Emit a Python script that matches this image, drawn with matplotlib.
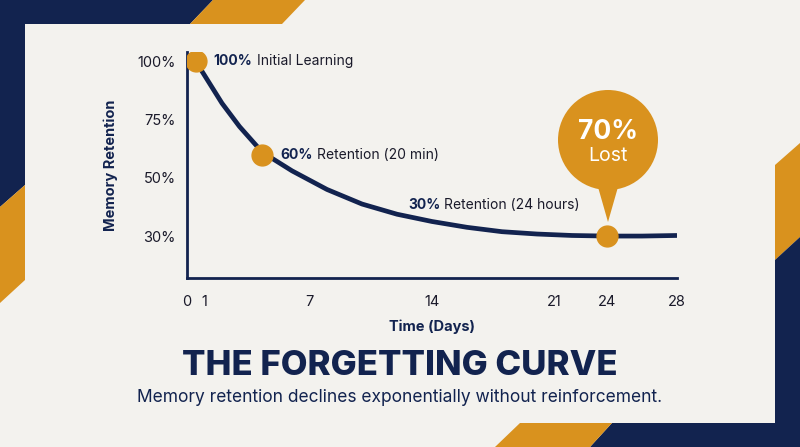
import matplotlib
matplotlib.use("Agg")
import matplotlib.pyplot as plt
import numpy as np
from matplotlib.patches import Polygon, Circle

NAVY = "#12234f"
ORANGE = "#d9921e"
BG = "#f3f2ee"

days = [0.5, 1, 2, 3, 4.3, 6, 8, 10, 12, 14, 16, 18, 20, 22, 24, 26, 28]
retention = [100, 94, 82, 72, 61, 53, 46, 41, 37.5, 35, 33, 31.5, 30.7, 30.2, 30, 30, 30.2]
key_days = [0.5, 4.3, 24]
key_vals = [100, 60, 30]
xticks = [0, 1, 7, 14, 21, 24, 28]
yticks = [100, 75, 50, 30]
ytick_labels = ["100%", "75%", "50%", "30%"]

plt.rcParams['font.family'] = ['Inter', 'DejaVu Sans']
fig = plt.figure(figsize=(8, 4.47), dpi=100)
fig.patch.set_facecolor(BG)

# decorative background
bg = fig.add_axes([0, 0, 1, 1])
bg.set_xlim(0, 800); bg.set_ylim(447, 0); bg.axis("off")
polys = [
    (NAVY, [(0, 0), (213, 0), (190, 24), (25, 24), (25, 185), (0, 207)]),
    (ORANGE, [(213, 0), (305, 0), (282, 24), (190, 24)]),
    (ORANGE, [(25, 185), (25, 280), (0, 303), (0, 207)]),
    (ORANGE, [(800, 143), (800, 237), (775, 260), (775, 165)]),
    (NAVY, [(800, 237), (800, 447), (590, 447), (612, 423), (775, 423), (775, 260)]),
    (ORANGE, [(495, 447), (520, 423), (612, 423), (590, 447)]),
]
for c, pts in polys:
    bg.add_patch(Polygon(pts, closed=True, facecolor=c, edgecolor="none"))

def fwd(v):
    v = np.asarray(v, dtype=float)
    return np.where(v >= 50, v, 50 - (50 - v) * 25 / 20)

def inv(v):
    v = np.asarray(v, dtype=float)
    return np.where(v >= 50, v, 50 - (50 - v) * 20 / 25)

ax = fig.add_axes([187/800, 1-278/447, 490/800, 226/447])
ax.set_facecolor("none")
ax.set_yscale("function", functions=(fwd, inv))
ax.set_xlim(0, 28)
ax.set_ylim(float(inv(7)), 104)
for s in ["top", "right"]:
    ax.spines[s].set_visible(False)
for s in ["left", "bottom"]:
    ax.spines[s].set_color(NAVY); ax.spines[s].set_linewidth(2)
ax.set_xticks(xticks)
ax.set_xticklabels([str(t) for t in xticks])
ax.set_yticks(yticks)
ax.set_yticklabels(ytick_labels)
ax.minorticks_off()
ax.tick_params(length=0, labelsize=10.5, colors="#1a1a2a", pad=8)
ax.tick_params(axis="x", pad=12)
ax.set_xlabel("Time (Days)", fontsize=10.5, fontweight="bold", color=NAVY, labelpad=8)
ax.set_ylabel("Memory Retention", fontsize=10.5, fontweight="bold", color=NAVY, labelpad=14)

ax.plot(days, retention, color=NAVY, lw=3.4, solid_capstyle="butt", zorder=3)
ax.plot(key_days, key_vals, "o", color=ORANGE, ms=15, zorder=4)

def label(x, y, bold, rest):
    t = ax.annotate(bold, (x, y), xytext=(13, 0), textcoords="offset points",
                    fontsize=10, fontweight="bold", color=NAVY, va="center")
    ax.annotate(rest, xy=(1, 0.5), xycoords=t, xytext=(3, 0), textcoords="offset points",
                fontsize=10, color="#1a1a2a", va="center")

label(key_days[0], key_vals[0], "100%", "Initial Learning")
label(key_days[1], key_vals[1], "60%", "Retention (20 min)")
t = ax.annotate("30%", (14, 30), xytext=(408 - 432 + 0, 0), textcoords="offset pixels",
                fontsize=10, fontweight="bold", color=NAVY, va="center")
t.set_position((14, 30))
t.xyann = (-24, 31)
ax.annotate("Retention (24 hours)", xy=(1, 0.5), xycoords=t, xytext=(3, 0),
            textcoords="offset points", fontsize=10, color="#1a1a2a", va="center")

# bubble
bg.add_patch(Circle((608, 140), 50, facecolor=ORANGE, edgecolor="none"))
bg.add_patch(Polygon([(596, 180), (620, 180), (608, 222)], closed=True, facecolor=ORANGE, edgecolor="none"))
bg.text(608, 132, "70%", ha="center", va="center", fontsize=19, fontweight="bold", color="white")
bg.text(608, 156, "Lost", ha="center", va="center", fontsize=14, color="white")

bg.text(400, 366, "THE FORGETTING CURVE", ha="center", va="center", fontsize=25,
        fontweight="heavy", color=NAVY)
bg.text(400, 397, "Memory retention declines exponentially without reinforcement.",
        ha="center", va="center", fontsize=12.5, color=NAVY)

fig.savefig("out.png", dpi=100, facecolor=BG)
